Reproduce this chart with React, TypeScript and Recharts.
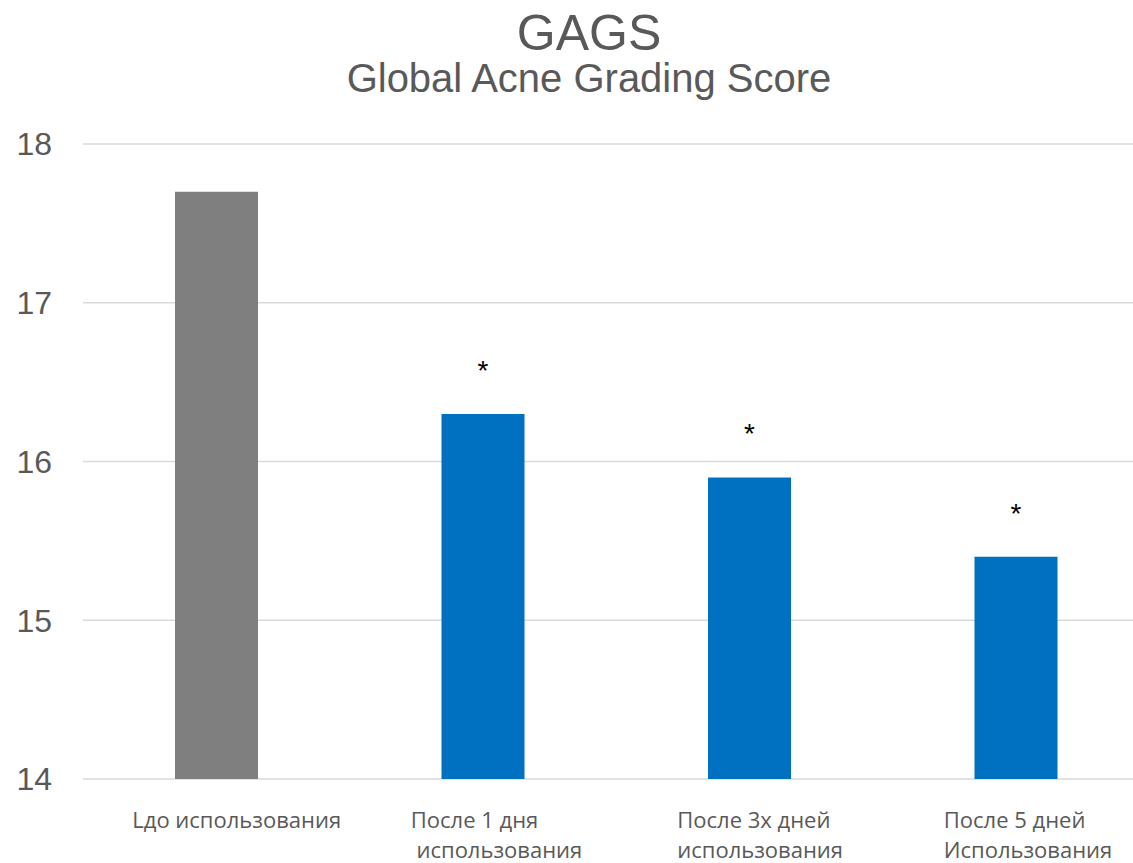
import { BarChart, Bar, XAxis, YAxis, CartesianGrid, Cell, LabelList } from 'recharts'

const categories = [
  'Lдо использования',
  'После 1 дня\n использования',
  'После 3х дней\nиспользования',
  'После 5 дней\nИспользования',
]
const gagsValues = [17.7, 16.3, 15.9, 15.4]
const significance = ['', '*', '*', '*']
const yTicks = [14, 15, 16, 17, 18]
const barColors = ['#7f7f7f', '#0070c0', '#0070c0', '#0070c0']

const chartData = categories.map((name, i) => ({
  name,
  value: gagsValues[i],
  mark: significance[i],
}))

function CategoryTick({ x, y, payload }: { x?: number; y?: number; payload?: { value: string } }) {
  const lines = String(payload?.value ?? '').split('\n')
  // single-line label sits a bit further left, like the original
  const dx = lines.length > 1 ? -72 : -84
  return (
    <g>
      {lines.map((line, i) => (
        <text
          key={i}
          x={(x ?? 0) + dx}
          y={(y ?? 0) + 49 + i * 30}
          textAnchor="start"
          fontFamily="'Open Sans', sans-serif"
          fontSize={22}
          fill="#595959"
          style={{ whiteSpace: 'pre' }}
        >
          {line}
        </text>
      ))}
    </g>
  )
}

export default function App() {
  return (
    <div style={{ position: 'absolute', left: 0, top: 0, width: 1133, height: 863, overflow: 'hidden', background: '#fff' }}>
      <svg width={1133} height={120} style={{ position: 'absolute', left: 0, top: 0 }}>
        <text x={589} y={50} textAnchor="middle" fontFamily="'Liberation Sans', Arial, sans-serif" fontSize={50} fill="#595959">
          GAGS
        </text>
        <text x={589} y={92} textAnchor="middle" fontFamily="'Liberation Sans', Arial, sans-serif" fontSize={40} fill="#595959">
          Global Acne Grading Score
        </text>
      </svg>
      <BarChart
        width={1150}
        height={863}
        data={chartData}
        margin={{ top: 144, right: 1, left: 0, bottom: 0 }}
      >
        <CartesianGrid vertical={false} stroke="#d9d9d9" strokeWidth={1.5} />
        <XAxis
          dataKey="name"
          height={84}
          axisLine={false}
          tickLine={false}
          tickSize={0}
          tickMargin={0}
          interval={0}
          tick={<CategoryTick />}
        />
        <YAxis
          domain={[14, 18]}
          ticks={yTicks}
          width={83}
          axisLine={false}
          tickLine={false}
          tickSize={0}
          tickMargin={31}
          tick={{ fontSize: 32, fill: '#595959', fontFamily: "'Liberation Sans', Arial, sans-serif" }}
        />
        <Bar dataKey="value" barSize={83} isAnimationActive={false}>
          {chartData.map((_, i) => (
            <Cell key={i} fill={barColors[i]} />
          ))}
          <LabelList
            dataKey="mark"
            position="top"
            offset={34}
            fill="#000"
            fontSize={28}
            fontFamily="'Liberation Sans', Arial, sans-serif"
          />
        </Bar>
      </BarChart>
    </div>
  )
}
